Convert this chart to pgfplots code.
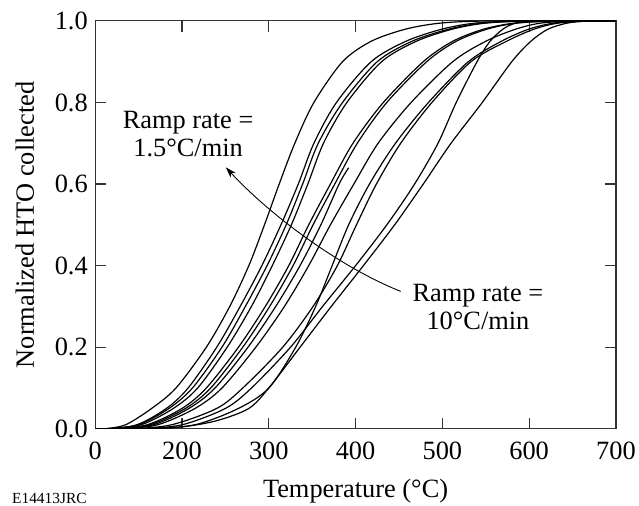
\documentclass[border=0pt]{standalone}
\usepackage{fontspec}
\setmainfont{Liberation Serif}
\usepackage{pgfplots}
\pgfplotsset{compat=1.18}
\usetikzlibrary{arrows.meta}
\begin{document}
\begin{tikzpicture}
\begin{axis}[
  width=523.3pt, height=410pt, scale only axis,
  xmin=100, xmax=700, ymin=0, ymax=1,
  xtick={100,200,300,400,500,600,700},
  xticklabels={0,200,300,400,500,600,700},
  ytick={0,0.2,0.4,0.6,0.8,1.0},
  yticklabels={0.0,0.2,0.4,0.6,0.8,1.0},
  tick align=inside, major tick length=11pt,
  axis line style={line width=1.2pt, black!80},
  tick style={line width=1.2pt, black!80},
  tick label style={font=\fontsize{26.5}{28}\selectfont},
  xticklabel style={anchor=base, yshift=-30.7pt},
  yticklabel style={xshift=-4pt},
  xlabel={Temperature (°C)},
  ylabel={Normalized HTO collected},
  every axis x label/.style={at={(axis description cs:0.5,0)}, anchor=base, yshift=-68.5pt, font=\fontsize{26.5}{30}\selectfont},
  every axis y label/.style={at={(axis description cs:-0.135,0.5)}, rotate=90, anchor=center, font=\fontsize{26.5}{30}\selectfont},
  cycle list={{black,solid,mark=none}},
  every axis plot/.append style={line width=1.2pt, smooth},
]
\addplot coordinates {(100,0)(110,0)(135,0.01)(165,0.05)(193,0.1)(228,0.2)(255,0.3)(277,0.4)(295,0.5)(312,0.6)(330,0.7)(352,0.8)(385,0.9)(418,0.95)(458,0.98)(500,0.995)(560,1)(700,1)};
\addplot coordinates {(100,0)(112,0)(148,0.01)(182,0.05)(207,0.1)(240,0.2)(267,0.3)(292,0.4)(314,0.5)(334,0.6)(352,0.7)(378,0.8)(418,0.9)(458,0.95)(500,0.98)(540,0.995)(600,1)(700,1)};
\addplot coordinates {(100,0)(114,0)(150,0.01)(185,0.05)(212,0.1)(246,0.2)(273,0.3)(298,0.4)(320,0.5)(339,0.6)(357,0.7)(385,0.8)(425,0.9)(465,0.95)(508,0.98)(548,0.995)(605,1)(700,1)};
\addplot coordinates {(100,0)(116,0)(153,0.01)(190,0.05)(218,0.1)(252,0.2)(280,0.3)(304,0.4)(326,0.5)(345,0.6)(363,0.7)(390,0.8)(430,0.9)(470,0.95)(512,0.98)(552,0.995)(610,1)(700,1)};
\addplot coordinates {(100,0)(120,0)(160,0.01)(200,0.05)(228,0.1)(265,0.2)(296,0.3)(323,0.4)(346,0.5)(371,0.6)(397,0.7)(432,0.8)(478,0.9)(512,0.95)(548,0.98)(585,0.995)(635,1)(700,1)};
\addplot coordinates {(100,0)(122,0)(163,0.01)(204,0.05)(233,0.1)(270,0.2)(301,0.3)(328,0.4)(351,0.5)(376,0.6)(402,0.7)(436,0.8)(482,0.9)(516,0.95)(552,0.98)(588,0.995)(640,1)(700,1)};
\addplot coordinates {(100,0)(125,0)(167,0.01)(208,0.05)(238,0.1)(276,0.2)(308,0.3)(336,0.4)(360,0.5)(381,0.6)(392,0.64)};
\addplot coordinates {(100,0)(130,0)(172,0.01)(215,0.05)(246,0.1)(285,0.2)(318,0.3)(346,0.4)(371,0.5)(398,0.6)(426,0.7)(464,0.8)(512,0.9)(550,0.95)(585,0.98)(615,0.995)(660,1)(700,1)};
\addplot coordinates {(100,0)(160,0)(215,0.01)(265,0.05)(300,0.1)(331,0.2)(354,0.3)(373,0.4)(392,0.5)(416,0.6)(446,0.7)(484,0.8)(530,0.9)(568,0.95)(600,0.98)(630,0.995)(670,1)(700,1)};
\addplot coordinates {(100,0)(140,0)(188,0.01)(240,0.05)(270,0.1)(316,0.2)(351,0.3)(379,0.4)(401,0.5)(424,0.6)(452,0.7)(488,0.8)(533,0.9)(574,0.95)(606,0.98)(635,0.995)(675,1)(700,1)};
\addplot coordinates {(100,0)(150,0)(200,0.01)(250,0.05)(280,0.1)(325,0.2)(362,0.3)(400,0.4)(436,0.5)(468,0.6)(495,0.7)(516,0.8)(540,0.9)(555,0.95)(570,0.98)(585,0.995)(605,1)(700,1)};
\addplot coordinates {(100,0)(150,0)(200,0.005)(240,0.02)(277,0.05)(300,0.1)(336,0.2)(372,0.3)(409,0.4)(445,0.5)(478,0.6)(510,0.7)(546,0.8)(580,0.9)(602,0.95)(622,0.98)(645,0.995)(670,1)(700,1)};
\node[align=center, font=\fontsize{26.5}{28}\selectfont, inner sep=1pt] at (axis cs:207,0.722) {Ramp rate =\\1.5°C/min};
\node[align=center, font=\fontsize{26.5}{28}\selectfont, inner sep=1pt] at (axis cs:541,0.298) {Ramp rate =\\10°C/min};
\draw[line width=0.9pt, -{Stealth[length=11pt,width=7pt]}] (axis cs:452,0.337) .. controls (axis cs:380,0.398) and (axis cs:300,0.527) .. (axis cs:250.5,0.641);
\coordinate (ll) at (rel axis cs:0,0);
\end{axis}
\path (ll) ++(-95.7pt,-77pt) rectangle ++(639pt,508pt);
\node[anchor=base west, font=\fontsize{15.5}{17}\selectfont, inner sep=0pt] at ([xshift=-83.7pt,yshift=-75pt]ll) {E14413JRC};
\end{tikzpicture}
\end{document}
